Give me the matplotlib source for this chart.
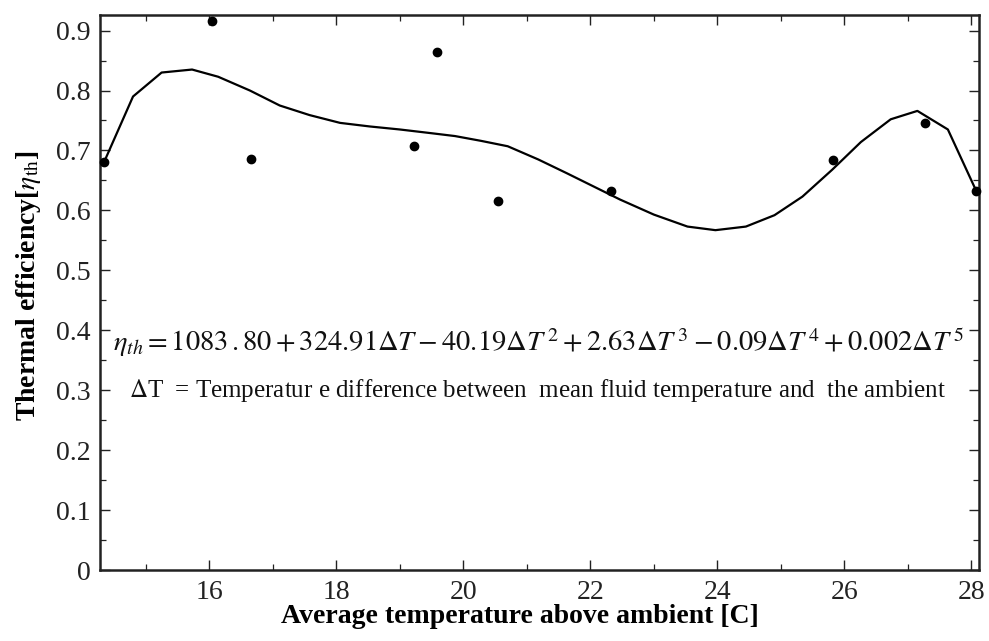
import matplotlib
matplotlib.use("Agg")
import matplotlib.pyplot as plt
from matplotlib.ticker import MultipleLocator, FixedLocator

# Measured data points
temp_pts = [14.35, 16.04, 16.65, 19.23, 19.59, 20.54, 22.33, 25.82, 27.27, 28.07]
eff_pts = [0.681, 0.916, 0.686, 0.707, 0.864, 0.615, 0.633, 0.684, 0.745, 0.633]

# Fitted curve
temp_fit = [14.35, 14.80, 15.25, 15.73, 16.14, 16.64, 17.11, 17.58, 18.06, 18.53,
            19.00, 19.48, 19.87, 20.28, 20.70, 21.18, 21.63, 22.05, 22.47, 23.00,
            23.53, 23.97, 24.45, 24.90, 25.34, 25.81, 26.26, 26.73, 27.15, 27.63, 28.07]
eff_fit = [0.682, 0.790, 0.830, 0.835, 0.823, 0.800, 0.775, 0.759, 0.746, 0.740,
           0.735, 0.729, 0.724, 0.716, 0.707, 0.685, 0.662, 0.640, 0.618, 0.593,
           0.573, 0.567, 0.573, 0.592, 0.623, 0.668, 0.714, 0.752, 0.766, 0.735, 0.634]

x_ticks = [16, 18, 20, 22, 24, 26, 28]
y_ticks = [0, 0.1, 0.2, 0.3, 0.4, 0.5, 0.6, 0.7, 0.8, 0.9]
y_tick_labels = ["0", "0.1", "0.2", "0.3", "0.4", "0.5", "0.6", "0.7", "0.8", "0.9"]

plt.rcParams['font.family'] = ['Liberation Serif', 'DejaVu Serif']
plt.rcParams['mathtext.fontset'] = 'stix'

fig = plt.figure(figsize=(9.89, 6.41), dpi=100)
ax = fig.add_axes([100/989, (641-570)/641, (979-100)/989, (570-15)/641])

ax.plot(temp_fit, eff_fit, color='black', lw=1.6, zorder=2, clip_on=False)
ax.plot(temp_pts, eff_pts, 'o', color='black', ms=6, zorder=3, clip_on=False)

ax.set_xlim(14.28, 28.12)
ax.set_ylim(0, 0.926)

ax.xaxis.set_major_locator(FixedLocator(x_ticks))
ax.xaxis.set_minor_locator(MultipleLocator(1))
ax.set_yticks(y_ticks)
ax.set_yticklabels(y_tick_labels)
ax.yaxis.set_minor_locator(MultipleLocator(0.05))

ax.tick_params(which='both', direction='in', top=True, right=True, color='#222222')
ax.tick_params(which='major', length=7, width=1.0, labelsize=20, pad=7, labelcolor='#222222')
ax.tick_params(which='minor', length=4, width=0.9)
for s in ax.spines.values():
    s.set_linewidth(1.8)
    s.set_color('#222222')

ax.set_xlabel('Average temperature above ambient [C]', fontsize=20, fontweight='bold')
ax.xaxis.set_label_coords((519.5-100)/879, -(604-570)/555)
ax.set_ylabel(r'Thermal efficiency[$\eta_{\rm th}$]', fontsize=20, fontweight='bold')
ax.yaxis.set_label_coords(-(100-43)/879, (570-286)/555)

eq = (r'$\eta_{th} = 1083\,.80 + 324.91\Delta T - 40.19\Delta T^{\,2} + 2.63\Delta T^{\,3}'
      r' - 0.09\Delta T^{\,4} + 0.002\Delta T^{\,5}$')
ax.text((538.5-100)/879, (570-342)/555, eq, transform=ax.transAxes, ha='center', va='center',
        fontsize=20.5, color='#111111')
ax.text((537.5-100)/879, (570-390)/555,
        r'$\Delta$T  = Temperatur e difference between  mean fluid temperature and  the ambient',
        transform=ax.transAxes, ha='center', va='center', fontsize=18, color='#111111')

fig.savefig('out.png', dpi=100)
